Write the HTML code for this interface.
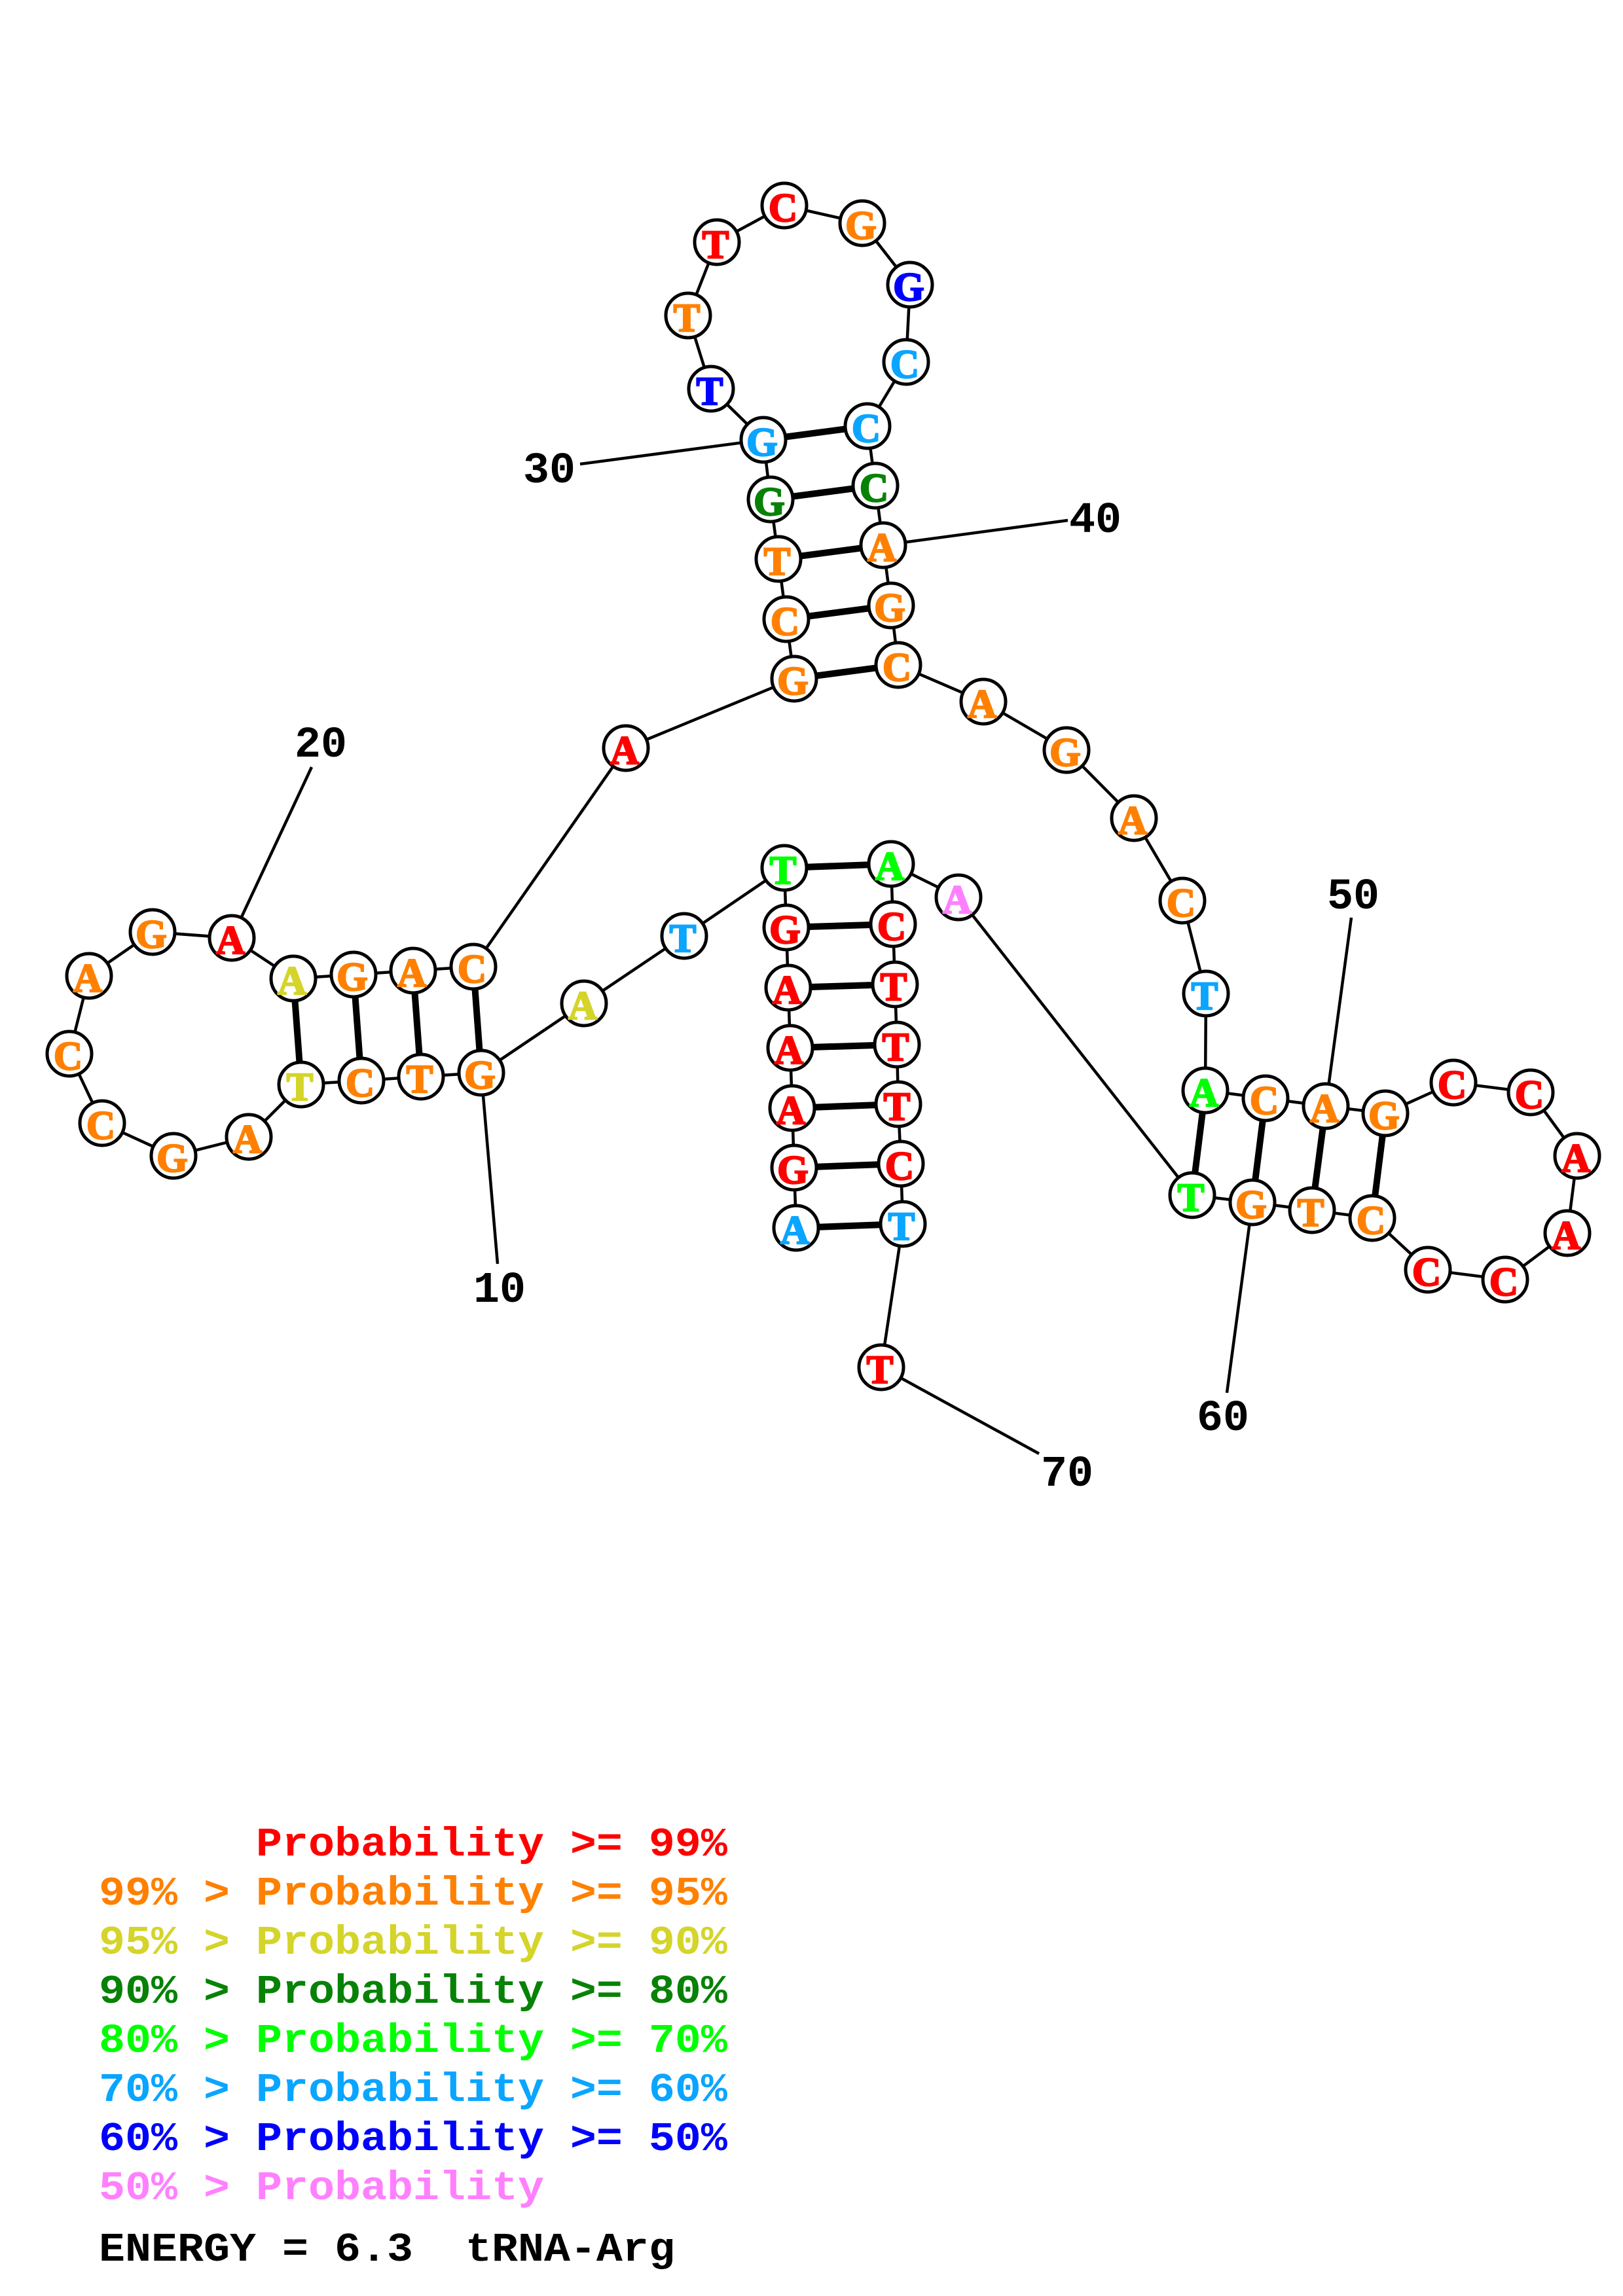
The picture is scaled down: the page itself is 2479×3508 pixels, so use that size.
<!DOCTYPE html>
<html><head><meta charset="utf-8"><style>
html,body{margin:0;padding:0;background:#fff}
svg{display:block}
.n text{font:bold 61px "Liberation Serif",serif;text-anchor:middle;stroke-width:2.4}
.n circle{fill:#fff;stroke:#000;stroke-width:5}
.l{font:bold 66.67px "Liberation Mono",monospace;text-anchor:middle;fill:#000}
.g{font:bold 66.67px "Liberation Mono",monospace;white-space:pre}
</style></head><body>
<svg xmlns="http://www.w3.org/2000/svg" width="2479" height="3508" viewBox="0 0 2479 3508">
<rect width="2479" height="3508" fill="#fff"/>
<polyline fill="none" stroke="#000" stroke-width="4.5" points="1216,1876 1213,1784 1210,1693 1207,1601 1204,1509 1201,1417 1198,1326 1045,1430 892,1533 735,1639 643,1645 552,1651 460,1657 380,1737 265,1766 156,1716 106,1610 136,1491 233,1424 354,1433 448,1495 540,1489 631,1483 723,1477 956,1143 1213,1037 1201,946 1189,854 1177,763 1166,672 1086,594 1051,482 1095,370 1198,314 1317,341 1390,435 1384,553 1325,651 1337,742 1349,833 1361,925 1372,1016 1502,1072 1629,1146 1732,1250 1806,1376 1842,1518 1841,1666 1933,1678 2025,1690 2116,1701 2220,1654 2338,1669 2409,1766 2394,1884 2299,1955 2181,1940 2096,1861 2004,1849 1913,1837 1821,1826 1464,1371 1361,1320 1364,1412 1367,1504 1370,1596 1372,1687 1376,1778 1379,1870 1346,2089"/>
<g stroke="#000" stroke-width="4.5">
<line x1="735" y1="1639" x2="760" y2="1931"/>
<line x1="354" y1="1433" x2="476" y2="1172"/>
<line x1="1166" y1="672" x2="886" y2="709"/>
<line x1="1349" y1="833" x2="1631" y2="795"/>
<line x1="2025" y1="1690" x2="2064" y2="1402"/>
<line x1="1913" y1="1837" x2="1874" y2="2128"/>
<line x1="1346" y1="2089" x2="1587" y2="2221"/>
</g>
<g stroke="#000" stroke-width="10">
<line x1="1216" y1="1876" x2="1379" y2="1870"/>
<line x1="1213" y1="1784" x2="1376" y2="1778"/>
<line x1="1210" y1="1693" x2="1372" y2="1687"/>
<line x1="1207" y1="1601" x2="1370" y2="1596"/>
<line x1="1204" y1="1509" x2="1367" y2="1504"/>
<line x1="1201" y1="1417" x2="1364" y2="1412"/>
<line x1="1198" y1="1326" x2="1361" y2="1320"/>
<line x1="735" y1="1639" x2="723" y2="1477"/>
<line x1="643" y1="1645" x2="631" y2="1483"/>
<line x1="552" y1="1651" x2="540" y2="1489"/>
<line x1="460" y1="1657" x2="448" y2="1495"/>
<line x1="1213" y1="1037" x2="1372" y2="1016"/>
<line x1="1201" y1="946" x2="1361" y2="925"/>
<line x1="1189" y1="854" x2="1349" y2="833"/>
<line x1="1177" y1="763" x2="1337" y2="742"/>
<line x1="1166" y1="672" x2="1325" y2="651"/>
<line x1="1841" y1="1666" x2="1821" y2="1826"/>
<line x1="1933" y1="1678" x2="1913" y2="1837"/>
<line x1="2025" y1="1690" x2="2004" y2="1849"/>
<line x1="2116" y1="1701" x2="2096" y2="1861"/>
</g>
<g class="n">
<circle cx="1216" cy="1876" r="34"/><circle cx="1213" cy="1784" r="34"/><circle cx="1210" cy="1693" r="34"/><circle cx="1207" cy="1601" r="34"/><circle cx="1204" cy="1509" r="34"/><circle cx="1201" cy="1417" r="34"/><circle cx="1198" cy="1326" r="34"/><circle cx="1045" cy="1430" r="34"/><circle cx="892" cy="1533" r="34"/><circle cx="735" cy="1639" r="34"/>
<circle cx="643" cy="1645" r="34"/><circle cx="552" cy="1651" r="34"/><circle cx="460" cy="1657" r="34"/><circle cx="380" cy="1737" r="34"/><circle cx="265" cy="1766" r="34"/><circle cx="156" cy="1716" r="34"/><circle cx="106" cy="1610" r="34"/><circle cx="136" cy="1491" r="34"/><circle cx="233" cy="1424" r="34"/><circle cx="354" cy="1433" r="34"/>
<circle cx="448" cy="1495" r="34"/><circle cx="540" cy="1489" r="34"/><circle cx="631" cy="1483" r="34"/><circle cx="723" cy="1477" r="34"/><circle cx="956" cy="1143" r="34"/><circle cx="1213" cy="1037" r="34"/><circle cx="1201" cy="946" r="34"/><circle cx="1189" cy="854" r="34"/><circle cx="1177" cy="763" r="34"/><circle cx="1166" cy="672" r="34"/>
<circle cx="1086" cy="594" r="34"/><circle cx="1051" cy="482" r="34"/><circle cx="1095" cy="370" r="34"/><circle cx="1198" cy="314" r="34"/><circle cx="1317" cy="341" r="34"/><circle cx="1390" cy="435" r="34"/><circle cx="1384" cy="553" r="34"/><circle cx="1325" cy="651" r="34"/><circle cx="1337" cy="742" r="34"/><circle cx="1349" cy="833" r="34"/>
<circle cx="1361" cy="925" r="34"/><circle cx="1372" cy="1016" r="34"/><circle cx="1502" cy="1072" r="34"/><circle cx="1629" cy="1146" r="34"/><circle cx="1732" cy="1250" r="34"/><circle cx="1806" cy="1376" r="34"/><circle cx="1842" cy="1518" r="34"/><circle cx="1841" cy="1666" r="34"/><circle cx="1933" cy="1678" r="34"/><circle cx="2025" cy="1690" r="34"/>
<circle cx="2116" cy="1701" r="34"/><circle cx="2220" cy="1654" r="34"/><circle cx="2338" cy="1669" r="34"/><circle cx="2409" cy="1766" r="34"/><circle cx="2394" cy="1884" r="34"/><circle cx="2299" cy="1955" r="34"/><circle cx="2181" cy="1940" r="34"/><circle cx="2096" cy="1861" r="34"/><circle cx="2004" cy="1849" r="34"/><circle cx="1913" cy="1837" r="34"/>
<circle cx="1821" cy="1826" r="34"/><circle cx="1464" cy="1371" r="34"/><circle cx="1361" cy="1320" r="34"/><circle cx="1364" cy="1412" r="34"/><circle cx="1367" cy="1504" r="34"/><circle cx="1370" cy="1596" r="34"/><circle cx="1372" cy="1687" r="34"/><circle cx="1376" cy="1778" r="34"/><circle cx="1379" cy="1870" r="34"/><circle cx="1346" cy="2089" r="34"/>
<text x="1214" y="1900" fill="#0aa5ff" stroke="#0aa5ff">A</text>
<text x="1211" y="1808" fill="#f00" stroke="#f00">G</text>
<text x="1208" y="1717" fill="#f00" stroke="#f00">A</text>
<text x="1205" y="1625" fill="#f00" stroke="#f00">A</text>
<text x="1202" y="1533" fill="#f00" stroke="#f00">A</text>
<text x="1199" y="1441" fill="#f00" stroke="#f00">G</text>
<text x="1196" y="1350" fill="#0f0" stroke="#0f0">T</text>
<text x="1043" y="1454" fill="#0aa5ff" stroke="#0aa5ff">T</text>
<text x="890" y="1557" fill="#d4d42a" stroke="#d4d42a">A</text>
<text x="733" y="1663" fill="#ff8000" stroke="#ff8000">G</text>
<text x="641" y="1669" fill="#ff8000" stroke="#ff8000">T</text>
<text x="550" y="1675" fill="#ff8000" stroke="#ff8000">C</text>
<text x="458" y="1681" fill="#d4d42a" stroke="#d4d42a">T</text>
<text x="378" y="1761" fill="#ff8000" stroke="#ff8000">A</text>
<text x="263" y="1790" fill="#ff8000" stroke="#ff8000">G</text>
<text x="154" y="1740" fill="#ff8000" stroke="#ff8000">C</text>
<text x="104" y="1634" fill="#ff8000" stroke="#ff8000">C</text>
<text x="134" y="1515" fill="#ff8000" stroke="#ff8000">A</text>
<text x="231" y="1448" fill="#ff8000" stroke="#ff8000">G</text>
<text x="352" y="1457" fill="#f00" stroke="#f00">A</text>
<text x="446" y="1519" fill="#d4d42a" stroke="#d4d42a">A</text>
<text x="538" y="1513" fill="#ff8000" stroke="#ff8000">G</text>
<text x="629" y="1507" fill="#ff8000" stroke="#ff8000">A</text>
<text x="721" y="1501" fill="#ff8000" stroke="#ff8000">C</text>
<text x="954" y="1167" fill="#f00" stroke="#f00">A</text>
<text x="1211" y="1061" fill="#ff8000" stroke="#ff8000">G</text>
<text x="1199" y="970" fill="#ff8000" stroke="#ff8000">C</text>
<text x="1187" y="878" fill="#ff8000" stroke="#ff8000">T</text>
<text x="1175" y="787" fill="#078207" stroke="#078207">G</text>
<text x="1164" y="696" fill="#0aa5ff" stroke="#0aa5ff">G</text>
<text x="1084" y="618" fill="#00f" stroke="#00f">T</text>
<text x="1049" y="506" fill="#ff8000" stroke="#ff8000">T</text>
<text x="1093" y="394" fill="#f00" stroke="#f00">T</text>
<text x="1196" y="338" fill="#f00" stroke="#f00">C</text>
<text x="1315" y="365" fill="#ff8000" stroke="#ff8000">G</text>
<text x="1388" y="459" fill="#00f" stroke="#00f">G</text>
<text x="1382" y="577" fill="#0aa5ff" stroke="#0aa5ff">C</text>
<text x="1323" y="675" fill="#0aa5ff" stroke="#0aa5ff">C</text>
<text x="1335" y="766" fill="#078207" stroke="#078207">C</text>
<text x="1347" y="857" fill="#ff8000" stroke="#ff8000">A</text>
<text x="1359" y="949" fill="#ff8000" stroke="#ff8000">G</text>
<text x="1370" y="1040" fill="#ff8000" stroke="#ff8000">C</text>
<text x="1500" y="1096" fill="#ff8000" stroke="#ff8000">A</text>
<text x="1627" y="1170" fill="#ff8000" stroke="#ff8000">G</text>
<text x="1730" y="1274" fill="#ff8000" stroke="#ff8000">A</text>
<text x="1804" y="1400" fill="#ff8000" stroke="#ff8000">C</text>
<text x="1840" y="1542" fill="#0aa5ff" stroke="#0aa5ff">T</text>
<text x="1839" y="1690" fill="#0f0" stroke="#0f0">A</text>
<text x="1931" y="1702" fill="#ff8000" stroke="#ff8000">C</text>
<text x="2023" y="1714" fill="#ff8000" stroke="#ff8000">A</text>
<text x="2114" y="1725" fill="#ff8000" stroke="#ff8000">G</text>
<text x="2218" y="1678" fill="#f00" stroke="#f00">C</text>
<text x="2336" y="1693" fill="#f00" stroke="#f00">C</text>
<text x="2407" y="1790" fill="#f00" stroke="#f00">A</text>
<text x="2392" y="1908" fill="#f00" stroke="#f00">A</text>
<text x="2297" y="1979" fill="#f00" stroke="#f00">C</text>
<text x="2179" y="1964" fill="#f00" stroke="#f00">C</text>
<text x="2094" y="1885" fill="#ff8000" stroke="#ff8000">C</text>
<text x="2002" y="1873" fill="#ff8000" stroke="#ff8000">T</text>
<text x="1911" y="1861" fill="#ff8000" stroke="#ff8000">G</text>
<text x="1819" y="1850" fill="#0f0" stroke="#0f0">T</text>
<text x="1462" y="1395" fill="#ff80ff" stroke="#ff80ff">A</text>
<text x="1359" y="1344" fill="#0f0" stroke="#0f0">A</text>
<text x="1362" y="1436" fill="#f00" stroke="#f00">C</text>
<text x="1365" y="1528" fill="#f00" stroke="#f00">T</text>
<text x="1368" y="1620" fill="#f00" stroke="#f00">T</text>
<text x="1370" y="1711" fill="#f00" stroke="#f00">T</text>
<text x="1374" y="1802" fill="#f00" stroke="#f00">C</text>
<text x="1377" y="1894" fill="#0aa5ff" stroke="#0aa5ff">T</text>
<text x="1344" y="2113" fill="#f00" stroke="#f00">T</text>
</g>
<text class="l" x="763" y="1989">10</text>
<text class="l" x="490" y="1156">20</text>
<text class="l" x="839" y="737">30</text>
<text class="l" x="1673" y="813">40</text>
<text class="l" x="2067" y="1388">50</text>
<text class="l" x="1868" y="2185">60</text>
<text class="l" x="1630" y="2270">70</text>
<text class="g" transform="translate(151,2835) scale(1,.93)" fill="#f00">      Probability &gt;= 99%</text>
<text class="g" transform="translate(151,2910) scale(1,.93)" fill="#ff8000">99% &gt; Probability &gt;= 95%</text>
<text class="g" transform="translate(151,2985) scale(1,.93)" fill="#d4d42a">95% &gt; Probability &gt;= 90%</text>
<text class="g" transform="translate(151,3060) scale(1,.93)" fill="#078207">90% &gt; Probability &gt;= 80%</text>
<text class="g" transform="translate(151,3135) scale(1,.93)" fill="#0f0">80% &gt; Probability &gt;= 70%</text>
<text class="g" transform="translate(151,3210) scale(1,.93)" fill="#0aa5ff">70% &gt; Probability &gt;= 60%</text>
<text class="g" transform="translate(151,3285) scale(1,.93)" fill="#00f">60% &gt; Probability &gt;= 50%</text>
<text class="g" transform="translate(151,3360) scale(1,.93)" fill="#ff80ff">50% &gt; Probability</text>
<text class="g" transform="translate(151,3454) scale(1,.93)" fill="#000">ENERGY = 6.3  tRNA-Arg</text>
</svg>
</body></html>
